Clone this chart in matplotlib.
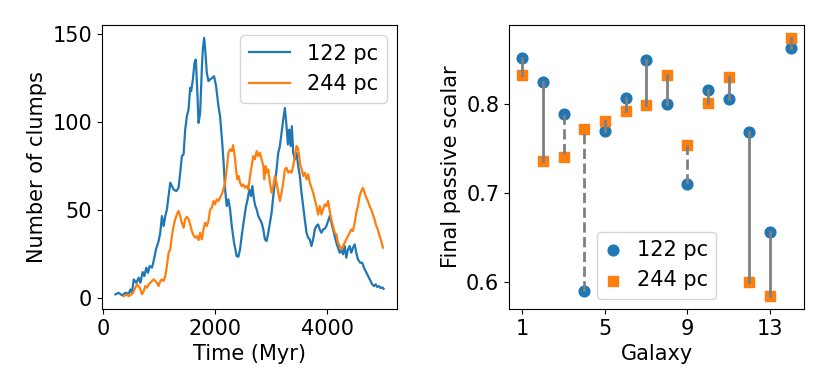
import matplotlib
matplotlib.use("Agg")
import matplotlib.pyplot as plt
import numpy as np

# Left panel: clump counts vs time
t_122 = [219, 278, 338, 397, 457, 487, 516, 546, 593, 635, 665, 706, 736, 771, 801, 831, 872, 902, 944, 991,
         1020, 1050, 1080, 1110, 1139, 1169, 1199, 1228, 1258, 1306, 1347, 1377, 1407, 1437, 1466, 1496, 1526,
         1555, 1573, 1603, 1632, 1656, 1686, 1704, 1733, 1763, 1781, 1805, 1828, 1852, 1882, 1911, 1947, 1982,
         2018, 2060, 2089, 2119, 2149, 2179, 2208, 2238, 2268, 2298, 2339, 2386, 2416, 2446, 2475, 2517, 2553,
         2576, 2612, 2642, 2666, 2695, 2719, 2743, 2772, 2802, 2832, 2862, 2891, 2921, 2951, 2980, 3010, 3040,
         3069, 3099, 3129, 3158, 3188, 3218, 3247, 3277, 3301, 3325, 3349, 3372, 3396, 3426, 3455, 3485, 3515,
         3544, 3574, 3604, 3633, 3663, 3693, 3722, 3752, 3782, 3811, 3841, 3870, 3900, 3930, 3960, 3989, 4019,
         4049, 4078, 4108, 4138, 4167, 4197, 4227, 4256, 4286, 4316, 4345, 4375, 4405, 4434, 4464, 4494, 4523,
         4553, 4595, 4630, 4660, 4689, 4719, 4749, 4779, 4808, 4838, 4868, 4898, 4927, 4957, 4987, 5011]
n_122 = [1.9, 2.8, 1.3, 2.8, 2.4, 4.7, 2.8, 10.4, 8.5, 11.4, 8.5, 14.6, 12.3, 17.1, 14.2, 18.0, 17.1, 20.9, 27.5, 32.3,
         37.0, 46.5, 40.8, 46.5, 50.3, 57.9, 65.5, 63.6, 61.7, 60.7, 62.6, 71.2, 80.7, 81.6, 95.8, 103.4, 107.2,
         119.6, 117.7, 124.3, 133.8, 135.7, 114.8, 99.6, 105.3, 130.0, 141.4, 148.0, 139.5, 128.1, 123.4, 124.3, 125.3, 126.2,
         120.5, 109.1, 103.4, 92.0, 78.7, 61.7, 52.2, 56.0, 50.3, 40.8, 31.3, 23.7, 23.3, 27.5, 35.1, 44.6, 52.2,
         55.1, 61.7, 57.9, 63.6, 56.0, 52.2, 50.3, 46.5, 44.6, 42.7, 38.9, 33.2, 32.3, 37.0, 42.7, 48.4, 57.9,
         65.5, 73.1, 82.6, 86.4, 93.9, 101.5, 108.1, 97.7, 87.3, 95.8, 86.4, 97.7, 82.6, 78.7, 82.6, 75.0, 69.3,
         59.8, 52.2, 44.6, 37.0, 34.2, 33.2, 29.4, 33.2, 38.9, 40.8, 41.7, 38.9, 37.0, 38.9, 39.3, 40.8, 43.6,
         46.5, 42.7, 38.9, 35.1, 31.3, 28.5, 25.6, 27.5, 24.7, 29.4, 22.8, 27.5, 29.4, 25.6, 28.5, 30.4, 25.6,
         21.8, 19.9, 19.9, 17.1, 15.2, 13.3, 11.4, 9.5, 7.6, 6.6, 7.6, 6.1, 6.6, 5.5, 5.9, 5.1]

t_244 = [368, 416, 457, 498, 534, 575, 605, 635, 665, 694, 724, 754, 783, 813, 843, 872, 902, 932, 961, 991,
         1021, 1050, 1080, 1110, 1139, 1169, 1199, 1228, 1258, 1288, 1317, 1347, 1377, 1407, 1437, 1466, 1496,
         1526, 1555, 1585, 1615, 1644, 1674, 1704, 1733, 1763, 1793, 1822, 1852, 1882, 1911, 1941, 1971, 2000,
         2030, 2060, 2089, 2119, 2149, 2179, 2208, 2238, 2268, 2298, 2321, 2351, 2374, 2398, 2422, 2446, 2475,
         2505, 2535, 2565, 2594, 2624, 2654, 2683, 2713, 2743, 2772, 2802, 2832, 2862, 2879, 2903, 2921, 2951,
         2980, 3010, 3040, 3069, 3099, 3129, 3158, 3188, 3218, 3247, 3277, 3307, 3337, 3366, 3396, 3426, 3455,
         3479, 3503, 3527, 3550, 3574, 3604, 3633, 3663, 3693, 3722, 3752, 3782, 3811, 3841, 3870, 3900, 3930,
         3960, 3989, 4019, 4049, 4078, 4108, 4138, 4167, 4197, 4227, 4256, 4286, 4316, 4345, 4375, 4405, 4434,
         4464, 4494, 4523, 4553, 4583, 4612, 4642, 4672, 4701, 4731, 4761, 4790, 4820, 4850, 4880, 4909, 4939,
         4969, 4998]
n_244 = [0.9, 1.7, 0.9, 1.7, 2.8, 5.7, 7.6, 6.6, 4.7, 1.9, 3.8, 6.6, 5.7, 7.6, 8.5, 9.5, 10.4, 9.5, 8.5, 6.6,
         9.5, 10.4, 9.5, 12.3, 18.0, 25.6, 27.5, 35.1, 40.8, 44.6, 47.4, 49.4, 46.5, 42.7, 39.8, 44.6, 46.1,
         44.6, 41.7, 37.9, 35.5, 34.2, 35.1, 32.8, 37.0, 33.2, 38.9, 42.7, 40.8, 43.6, 50.3, 51.2, 55.1, 53.2,
         56.0, 55.1, 57.0, 58.9, 61.7, 65.5, 73.1, 82.6, 84.5, 83.5, 86.9, 80.7, 73.1, 67.4, 69.3, 65.5, 63.6,
         64.5, 62.6, 63.6, 61.7, 69.3, 75.0, 80.7, 78.8, 83.5, 80.7, 82.6, 78.8, 75.0, 67.4, 75.0, 71.2, 73.1,
         65.5, 59.8, 63.6, 69.3, 65.5, 59.8, 55.1, 59.8, 65.5, 73.1, 74.0, 71.2, 72.2, 71.2, 75.0, 80.7, 86.4,
         85.4, 80.7, 75.0, 73.1, 69.3, 71.2, 67.4, 70.3, 65.5, 62.6, 59.8, 56.0, 52.2, 47.4, 52.2, 47.4, 50.3,
         53.2, 52.2, 55.1, 49.4, 44.6, 40.8, 37.0, 36.1, 31.3, 29.4, 27.5, 29.4, 31.3, 33.2, 35.1, 37.0, 38.9,
         38.0, 42.7, 48.4, 52.2, 57.9, 60.7, 62.6, 59.8, 57.0, 55.1, 52.2, 50.3, 47.4, 44.6, 40.8, 38.9, 35.1,
         32.3, 28.5]

# Right panel: final passive scalar per galaxy
galaxy = list(range(1, 15))
scalar_122 = [0.852, 0.824, 0.788, 0.590, 0.769, 0.807, 0.849, 0.800, 0.710, 0.815, 0.805, 0.768, 0.656, 0.863]
scalar_244 = [0.832, 0.736, 0.740, 0.772, 0.781, 0.792, 0.799, 0.832, 0.754, 0.801, 0.830, 0.600, 0.584, 0.874]
link_style = ['-', '-', '--', '--', '-', '-', '-', '-', '--', '-', '-', '-', '-', '-']
galaxy_ticks = [1, 5, 9, 13]

labels = ['122 pc', '244 pc']
c_blue = '#1f77b4'
c_orange = '#ff7f0e'

plt.rcParams['font.family'] = ['DejaVu Sans']
plt.rcParams['font.size'] = 15

fig = plt.figure(figsize=(8.3, 3.92), dpi=100)
ax1 = fig.add_axes([0.1229, 0.2117, 0.3554, 0.7245])
ax2 = fig.add_axes([0.6133, 0.2117, 0.3554, 0.7245])

ax1.plot(t_122, n_122, color=c_blue, lw=1.6, label=labels[0])
ax1.plot(t_244, n_244, color=c_orange, lw=1.6, label=labels[1])
ax1.set_xlabel('Time (Myr)')
ax1.set_ylabel('Number of clumps')
ax1.set_xticks([0, 2000, 4000])
ax1.set_yticks([0, 50, 100, 150])
ax1.legend(loc='upper right', fontsize=15)

ax2.scatter(galaxy, scalar_122, s=60, marker='o', color=c_blue, label=labels[0], zorder=2)
ax2.scatter(galaxy, scalar_244, s=60, marker='s', color=c_orange, label=labels[1], zorder=2)
for g, a, b, ls in zip(galaxy, scalar_122, scalar_244, link_style):
    ax2.plot([g, g], [a, b], color='gray', lw=2, ls=ls, zorder=3)
ax2.set_xlabel('Galaxy')
ax2.set_ylabel('Final passive scalar')
ax2.set_xticks(galaxy_ticks)
ax2.set_yticks([0.6, 0.7, 0.8])
ax2.legend(loc='lower center', fontsize=15, handlelength=0.7)

fig.savefig('out.png', dpi=100)
